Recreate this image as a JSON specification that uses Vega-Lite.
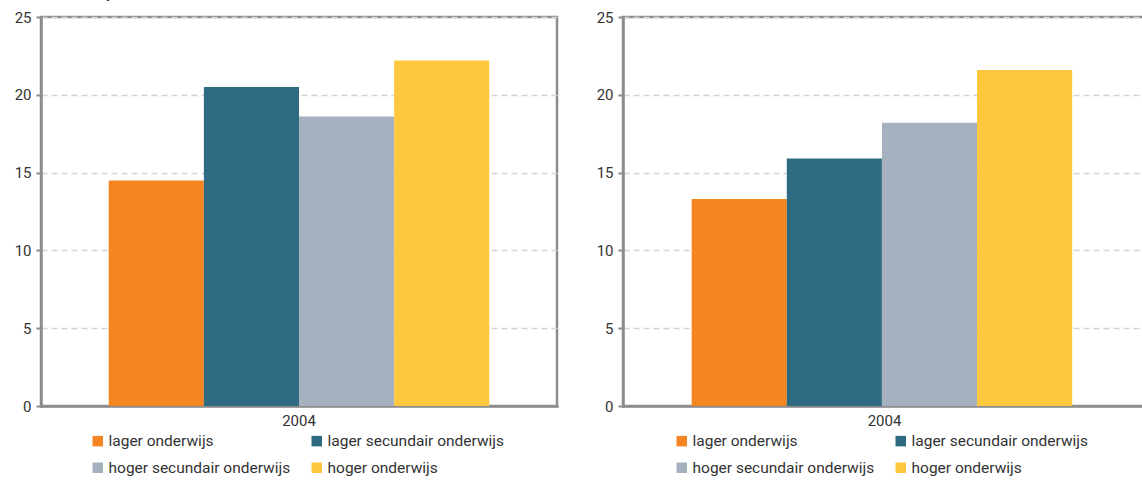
{
  "$schema": "https://vega.github.io/schema/vega-lite/v6.json",
  "padding": {"left": 12, "top": -15, "right": 0, "bottom": 0},
  "background": "white",
  "spacing": 35,
  "datasets": {
    "links": [
      {"jaar": "2004", "niveau": "lager onderwijs", "waarde": 14.5},
      {"jaar": "2004", "niveau": "lager secundair onderwijs", "waarde": 20.5},
      {"jaar": "2004", "niveau": "hoger secundair onderwijs", "waarde": 18.6},
      {"jaar": "2004", "niveau": "hoger onderwijs", "waarde": 22.2}
    ],
    "rechts": [
      {"jaar": "2004", "niveau": "lager onderwijs", "waarde": 13.3},
      {"jaar": "2004", "niveau": "lager secundair onderwijs", "waarde": 15.9},
      {"jaar": "2004", "niveau": "hoger secundair onderwijs", "waarde": 18.2},
      {"jaar": "2004", "niveau": "hoger onderwijs", "waarde": 21.6}
    ]
  },
  "resolve": {"legend": {"color": "independent"}, "scale": {"color": "independent"}},
  "hconcat": [
    {
      "width": 516,
      "height": 389,
      "title": {"text": "jaren", "anchor": "start", "dx": 93, "offset": -2, "fontSize": 14, "fontWeight": "normal", "font": "Roboto", "color": "#333333", "baseline": "alphabetic"},
      "data": {"name": "links"},
      "mark": {"type": "bar"},
      "encoding": {
        "x": {"field": "jaar", "type": "nominal", "scale": {"paddingOuter": 0.178, "paddingInner": 0}, "axis": {"title": null, "labelAngle": 0, "ticks": false, "labelPadding": 7}},
        "xOffset": {"field": "niveau", "type": "nominal", "sort": ["lager onderwijs", "lager secundair onderwijs", "hoger secundair onderwijs", "hoger onderwijs"], "scale": {"paddingInner": 0, "paddingOuter": 0}},
        "y": {"field": "waarde", "type": "quantitative", "scale": {"domain": [0, 25], "nice": false}, "axis": {"title": null, "values": [0, 5, 10, 15, 20, 25]}},
        "color": {"field": "niveau", "type": "nominal", "sort": ["lager onderwijs", "lager secundair onderwijs", "hoger secundair onderwijs", "hoger onderwijs"], "scale": {"domain": ["lager onderwijs", "lager secundair onderwijs", "hoger secundair onderwijs", "hoger onderwijs"], "range": ["#F58422", "#2E6A80", "#A5B1BF", "#FFC73D"]}, "legend": {"orient": "none", "legendX": 49, "legendY": 416, "direction": "horizontal", "columns": 2, "title": null}}
      }
    },
    {
      "width": 523,
      "height": 389,
      "data": {"name": "rechts"},
      "mark": {"type": "bar"},
      "encoding": {
        "x": {"field": "jaar", "type": "nominal", "scale": {"paddingOuter": 0.178, "paddingInner": 0}, "axis": {"title": null, "labelAngle": 0, "ticks": false, "labelPadding": 7}},
        "xOffset": {"field": "niveau", "type": "nominal", "sort": ["lager onderwijs", "lager secundair onderwijs", "hoger secundair onderwijs", "hoger onderwijs"], "scale": {"paddingInner": 0, "paddingOuter": 0}},
        "y": {"field": "waarde", "type": "quantitative", "scale": {"domain": [0, 25], "nice": false}, "axis": {"title": null, "values": [0, 5, 10, 15, 20, 25]}},
        "color": {"field": "niveau", "type": "nominal", "sort": ["lager onderwijs", "lager secundair onderwijs", "hoger secundair onderwijs", "hoger onderwijs"], "scale": {"domain": ["lager onderwijs", "lager secundair onderwijs", "hoger secundair onderwijs", "hoger onderwijs"], "range": ["#F58422", "#2E6A80", "#A5B1BF", "#FFC73D"]}, "legend": {"orient": "none", "legendX": 51, "legendY": 416, "direction": "horizontal", "columns": 2, "title": null}}
      }
    }
  ],
  "config": {
    "font": "Roboto",
    "view": {"stroke": "#8c8c8c", "strokeWidth": 2.5},
    "axis": {"labelFont": "Roboto", "labelFontSize": 15, "labelColor": "#333333", "domainColor": "#8c8c8c", "domainWidth": 2.5, "tickColor": "#8c8c8c", "tickWidth": 2, "tickSize": 5},
    "axisY": {"grid": true, "gridColor": "#d4d4d4", "gridDash": [6, 4], "gridWidth": 1.4, "labelPadding": 5, "domainCap": "square"},
    "axisX": {"grid": false, "domainCap": "square"},
    "legend": {"labelFont": "Roboto", "labelFontSize": 15.5, "labelColor": "#333333", "labelLimit": 400, "symbolType": "square", "symbolSize": 110, "symbolStrokeWidth": 0, "symbolOpacity": 1, "labelOffset": 3, "columnPadding": 18, "rowPadding": 10, "symbolOffset": 0}
  }
}
